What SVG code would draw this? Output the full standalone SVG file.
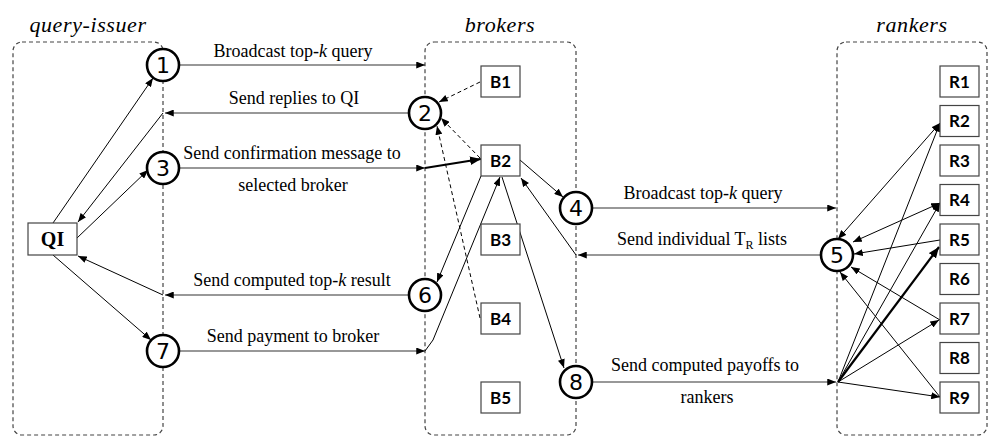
<svg xmlns="http://www.w3.org/2000/svg" width="988" height="437" viewBox="0 0 988 437">
<defs>
<marker id="ah" viewBox="0 0 10 8" refX="10" refY="4" markerWidth="9" markerHeight="7" markerUnits="userSpaceOnUse" orient="auto-start-reverse">
<path d="M0,0 L10,4 L0,8 z" fill="#000"/>
</marker>
<marker id="ahb" viewBox="0 0 10 8" refX="10" refY="4" markerWidth="11" markerHeight="9" markerUnits="userSpaceOnUse" orient="auto-start-reverse">
<path d="M0,0 L10,4 L0,8 z" fill="#000"/>
</marker>
</defs>
<style>
.cont{fill:none;stroke:#444;stroke-width:1.2;stroke-dasharray:4 3}
.title{font-family:"Liberation Serif",serif;font-style:italic;font-size:22px;letter-spacing:0.6px;text-anchor:middle;fill:#000}
.circ{fill:#fff;stroke:#000;stroke-width:2.6}
.num{font-family:"DejaVu Sans",sans-serif;font-size:22px;text-anchor:middle;fill:#000}
.box{fill:#fff;stroke:#444;stroke-width:1.2}
.bl{font-family:Lato,"Open Sans",sans-serif;font-weight:bold;font-size:17px;text-anchor:middle;fill:#000}
.qi{font-family:"Liberation Serif",serif;font-weight:bold;font-size:20px;text-anchor:middle;fill:#000}
.lab{font-family:"Liberation Serif",serif;font-size:18px;text-anchor:middle;fill:#000}
.c{fill:none;stroke:#000;stroke-width:1;marker-end:url(#ah)}
.h{fill:none;stroke:#333;stroke-width:1.2;marker-end:url(#ah)}
.n{fill:none;stroke:#000;stroke-width:1}
.d{fill:none;stroke:#000;stroke-width:1;stroke-dasharray:4 3;marker-end:url(#ah)}
.t{fill:none;stroke:#000;stroke-width:2.2;marker-end:url(#ahb)}
.dbl{fill:none;stroke:#000;stroke-width:1;marker-end:url(#ah);marker-start:url(#ah)}
</style>

<g id="query-issuer">
<rect class="cont" x="13" y="42" width="150" height="393" rx="9"/>
<text class="title" x="88" y="32">query-issuer</text>
</g>
<g id="brokers">
<rect class="cont" x="425" y="42" width="151" height="393" rx="9"/>
<text class="title" x="500" y="32">brokers</text>
</g>
<g id="rankers">
<rect class="cont" x="837" y="42" width="150" height="393" rx="9"/>
<text class="title" x="912" y="32">rankers</text>
</g>

<g id="connectors">
<line class="h" x1="179" y1="65" x2="425" y2="65"/>
<line class="h" x1="409" y1="113" x2="165" y2="113"/>
<line class="c" x1="163" y1="113" x2="78" y2="222"/>
<line class="h" x1="179" y1="168" x2="425" y2="168"/>
<line class="t" x1="425" y1="168" x2="481" y2="159"/>
<line class="c" x1="53" y1="223" x2="153" y2="78"/>
<line class="c" x1="77" y1="238" x2="148" y2="170"/>
<line class="h" x1="409" y1="295" x2="165" y2="295"/>
<line class="c" x1="163" y1="295" x2="78" y2="256"/>
<line class="c" x1="53" y1="255" x2="151" y2="340"/>
<line class="h" x1="179" y1="351" x2="425" y2="351"/>
<polyline class="c" points="425,351 433,340 500,177"/>
<line class="c" x1="481" y1="176" x2="437" y2="282"/>
<line class="c" x1="520" y1="160" x2="563" y2="197"/>
<line class="c" x1="576" y1="255" x2="521" y2="178"/>
<line class="c" x1="502" y1="177" x2="564" y2="368"/>
<line class="d" x1="480" y1="82" x2="439" y2="102"/>
<line class="d" x1="480" y1="158" x2="441" y2="118"/>
<line class="d" x1="480" y1="318" x2="437" y2="126"/>
<line class="h" x1="592" y1="208" x2="836" y2="208"/>
<line class="h" x1="821" y1="255" x2="578" y2="255"/>
<line class="h" x1="592" y1="382" x2="836" y2="382"/>
<line class="c" x1="838" y1="382" x2="940" y2="123"/>
<line class="c" x1="838" y1="382" x2="940" y2="203"/>
<line class="t" x1="838" y1="382" x2="939" y2="247"/>
<line class="c" x1="838" y1="382" x2="939" y2="320"/>
<line class="c" x1="838" y1="382" x2="940" y2="397"/>
<line class="dbl" x1="940" y1="123" x2="838" y2="239"/>
<line class="dbl" x1="940" y1="203" x2="853" y2="242"/>
<line class="c" x1="940" y1="240" x2="854" y2="254"/>
<line class="c" x1="940" y1="320" x2="851" y2="267"/>
<line class="c" x1="940" y1="397" x2="840" y2="272"/>
</g>

<g id="labels">
<text class="lab" x="293" y="57">Broadcast top-<tspan font-style="italic">k</tspan> query</text>
<text class="lab" x="294" y="104">Send replies to QI</text>
<text class="lab" x="292" y="159">Send confirmation message to</text>
<text class="lab" x="293" y="191">selected broker</text>
<text class="lab" x="292" y="286">Send computed top-<tspan font-style="italic">k</tspan> result</text>
<text class="lab" x="293" y="342">Send payment to broker</text>
<text class="lab" x="703" y="199">Broadcast top-<tspan font-style="italic">k</tspan> query</text>
<text class="lab" x="702" y="245">Send individual T<tspan font-size="12" dy="4">R</tspan><tspan dy="-4"> lists</tspan></text>
<text class="lab" x="705" y="371">Send computed payoffs to</text>
<text class="lab" x="707" y="403">rankers</text>
</g>

<g id="QI"><rect class="box" x="28" y="223" width="49" height="32"/><text class="qi" x="52.5" y="246">QI</text></g>

<g id="step1"><circle class="circ" cx="163" cy="65" r="16"/><text class="num" x="163" y="73">1</text></g>
<g id="step2"><circle class="circ" cx="425" cy="113" r="16"/><text class="num" x="425" y="121">2</text></g>
<g id="step3"><circle class="circ" cx="163" cy="168" r="16"/><text class="num" x="163" y="176">3</text></g>
<g id="step4"><circle class="circ" cx="576" cy="208" r="16"/><text class="num" x="576" y="216">4</text></g>
<g id="step5"><circle class="circ" cx="837" cy="255" r="16"/><text class="num" x="837" y="263">5</text></g>
<g id="step6"><circle class="circ" cx="425" cy="295" r="16"/><text class="num" x="425" y="303">6</text></g>
<g id="step7"><circle class="circ" cx="163" cy="351" r="16"/><text class="num" x="163" y="359">7</text></g>
<g id="step8"><circle class="circ" cx="576" cy="382" r="16"/><text class="num" x="576" y="390">8</text></g>

<g id="B1"><rect class="box" x="481" y="66" width="39" height="31"/><text class="bl" x="500.5" y="87.5">B1</text></g>
<g id="B2"><rect class="box" x="481" y="145" width="39" height="31"/><text class="bl" x="500.5" y="166.5">B2</text></g>
<g id="B3"><rect class="box" x="481" y="224" width="39" height="31"/><text class="bl" x="500.5" y="245.5">B3</text></g>
<g id="B4"><rect class="box" x="481" y="303" width="39" height="31"/><text class="bl" x="500.5" y="324.5">B4</text></g>
<g id="B5"><rect class="box" x="481" y="382" width="39" height="31"/><text class="bl" x="500.5" y="403.5">B5</text></g>

<g id="R1"><rect class="box" x="940" y="66" width="39" height="31"/><text class="bl" x="959.5" y="87.5">R1</text></g>
<g id="R2"><rect class="box" x="940" y="105.5" width="39" height="31"/><text class="bl" x="959.5" y="127">R2</text></g>
<g id="R3"><rect class="box" x="940" y="145" width="39" height="31"/><text class="bl" x="959.5" y="166.5">R3</text></g>
<g id="R4"><rect class="box" x="940" y="184.5" width="39" height="31"/><text class="bl" x="959.5" y="206">R4</text></g>
<g id="R5"><rect class="box" x="940" y="224" width="39" height="31"/><text class="bl" x="959.5" y="245.5">R5</text></g>
<g id="R6"><rect class="box" x="940" y="263.5" width="39" height="31"/><text class="bl" x="959.5" y="285">R6</text></g>
<g id="R7"><rect class="box" x="940" y="303" width="39" height="31"/><text class="bl" x="959.5" y="324.5">R7</text></g>
<g id="R8"><rect class="box" x="940" y="342.5" width="39" height="31"/><text class="bl" x="959.5" y="364">R8</text></g>
<g id="R9"><rect class="box" x="940" y="382" width="39" height="31"/><text class="bl" x="959.5" y="403.5">R9</text></g>
</svg>
